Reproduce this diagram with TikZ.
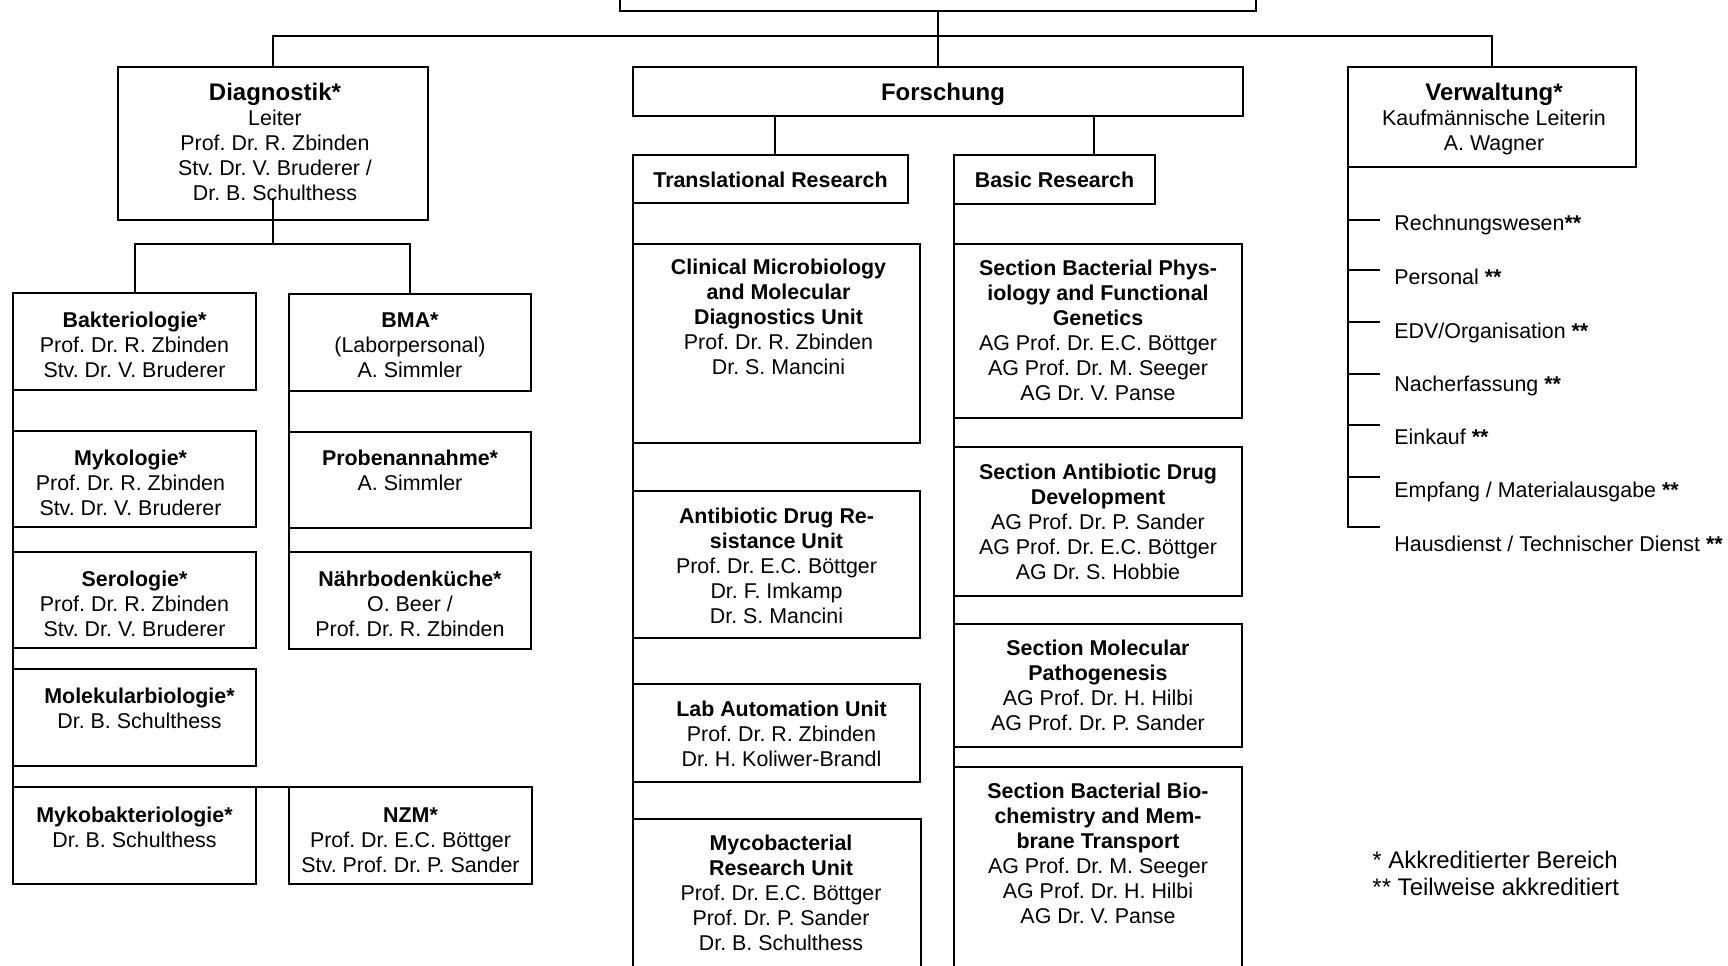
\documentclass[tikz,border=0pt]{standalone}
\usepackage{fontspec}
\setmainfont{Liberation Sans}
\usetikzlibrary{fit,calc}
\frenchspacing
\newcommand{\fst}{\rule{0pt}{9pt}}
\newcommand{\hdr}{\bfseries\fontsize{12}{12.5}\selectfont}
\begin{document}
\frenchspacing
\begin{tikzpicture}[x=0.5pt,y=-0.5pt,
  bx/.style={draw, line width=1pt, inner sep=0pt, outer sep=0pt},
  txt/.style={anchor=north, inner sep=0pt, align=center, font=\fontsize{10.7}{12.5}\selectfont},
  conn/.style={line width=1pt},
  listitem/.style={anchor=base west, inner sep=0pt, font=\fontsize{10.7}{12.5}\selectfont},
  fnote/.style={anchor=base west, inner sep=0pt, font=\fontsize{12}{14}\selectfont}]
\useasboundingbox (0,0) rectangle (1728,965);
\clip (0,0) rectangle (1728,965);

% top level
\node[bx, fit={(620,-40) (1256,11)}] (top) {};
\node[bx, fit={(118,67) (428,220)}] (diag) {};
\node[txt] at ($(diag.north)+(2,15)$) {\fst{\hdr Diagnostik*}\\Leiter\\Prof. Dr. R. Zbinden\\Stv. Dr. V. Bruderer /\\Dr. B. Schulthess};
\node[bx, fit={(633,67) (1243,116)}] (forsch) {};
\node[txt] at ($(forsch.north)+(5,15)$) {\fst{\hdr Forschung}};
\node[bx, fit={(1348,67) (1636,167)}] (verw) {};
\node[txt] at ($(verw.north)+(2,15)$) {\fst{\hdr Verwaltung*}\\Kaufmännische Leiterin\\A. Wagner};

% Diagnostik column
\node[bx, fit={(13,293) (256,390)}] (bakt) {};
\node[txt] at ($(bakt.north)+(0,16)$) {\fst\textbf{Bakteriologie*}\\Prof. Dr. R. Zbinden\\Stv. Dr. V. Bruderer};
\node[bx, fit={(289,294) (531,391)}] (bma) {};
\node[txt] at ($(bma.north)+(0,15)$) {\fst\textbf{BMA*}\\(Laborpersonal)\\A. Simmler};
\node[bx, fit={(13,431) (256,527)}] (myk) {};
\node[txt] at ($(myk.north)+(-4,16)$) {\fst\textbf{Mykologie*}\\Prof. Dr. R. Zbinden\\Stv. Dr. V. Bruderer};
\node[bx, fit={(289,432) (531,528)}] (proben) {};
\node[txt] at ($(proben.north)+(0,15)$) {\fst\textbf{Probenannahme*}\\A. Simmler};
\node[bx, fit={(13,552) (256,648)}] (sero) {};
\node[txt] at ($(sero.north)+(0,16)$) {\fst\textbf{Serologie*}\\Prof. Dr. R. Zbinden\\Stv. Dr. V. Bruderer};
\node[bx, fit={(289,552) (531,649)}] (naehr) {};
\node[txt] at ($(naehr.north)+(0,16)$) {\fst\textbf{Nährbodenküche*}\\O. Beer /\\Prof. Dr. R. Zbinden};
\node[bx, fit={(13,669) (256,766)}] (molek) {};
\node[txt] at ($(molek.north)+(5,16)$) {\fst\textbf{Molekularbiologie*}\\Dr. B. Schulthess};
\node[bx, fit={(13,787) (256,884)}] (mykob) {};
\node[txt] at ($(mykob.north)+(0,17)$) {\fst\textbf{Mykobakteriologie*}\\Dr. B. Schulthess};
\node[bx, fit={(289,787) (532,884)}] (nzm) {};
\node[txt] at ($(nzm.north)+(0,17)$) {\fst\textbf{NZM*}\\Prof. Dr. E.C. Böttger\\Stv. Prof. Dr. P. Sander};

% Forschung columns
\node[bx, fit={(633,155) (908,203)}] (tr) {};
\node[txt] at ($(tr.north)+(0,14)$) {\fst\textbf{Translational Research}};
\node[bx, fit={(954,155) (1155,204)}] (br) {};
\node[txt] at ($(br.north)+(0,14)$) {\fst\textbf{Basic Research}};

\node[bx, fit={(633,244) (920,443)}] (clin) {};
\node[txt] at ($(clin.north)+(2,12)$) {\fst\textbf{Clinical Microbiology}\\\textbf{and Molecular}\\\textbf{Diagnostics Unit}\\Prof. Dr. R. Zbinden\\Dr. S. Mancini};
\node[bx, fit={(633,491) (920,638)}] (abr) {};
\node[txt] at ($(abr.north)+(0,14)$) {\fst\textbf{Antibiotic Drug Re-}\\\textbf{sistance Unit}\\Prof. Dr. E.C. Böttger\\Dr. F. Imkamp\\Dr. S. Mancini};
\node[bx, fit={(633,684) (920,782)}] (lab) {};
\node[txt] at ($(lab.north)+(5,14)$) {\fst\textbf{Lab Automation Unit}\\Prof. Dr. R. Zbinden\\Dr. H. Koliwer-Brandl};
\node[bx, fit={(633,819) (921,1000)}] (myco) {};
\node[txt] at ($(myco.north)+(4,13)$) {\fst\textbf{Mycobacterial}\\\textbf{Research Unit}\\Prof. Dr. E.C. Böttger\\Prof. Dr. P. Sander\\Dr. B. Schulthess};

\node[bx, fit={(954,244) (1242,418)}] (phys) {};
\node[txt] at ($(phys.north)+(0,13)$) {\fst\textbf{Section Bacterial Phys-}\\\textbf{iology and Functional}\\\textbf{Genetics}\\AG Prof. Dr. E.C. Böttger\\AG Prof. Dr. M. Seeger\\AG Dr. V. Panse};
\node[bx, fit={(954,447) (1242,596)}] (abd) {};
\node[txt] at ($(abd.north)+(0,14)$) {\fst\textbf{Section Antibiotic Drug}\\\textbf{Development}\\AG Prof. Dr. P. Sander\\AG Prof. Dr. E.C. Böttger\\AG Dr. S. Hobbie};
\node[bx, fit={(954,624) (1242,747)}] (mol) {};
\node[txt] at ($(mol.north)+(0,13)$) {\fst\textbf{Section Molecular}\\\textbf{Pathogenesis}\\AG Prof. Dr. H. Hilbi\\AG Prof. Dr. P. Sander};
\node[bx, fit={(954,767) (1242,1000)}] (bio) {};
\node[txt] at ($(bio.north)+(0,13)$) {\fst\textbf{Section Bacterial Bio-}\\\textbf{chemistry and Mem-}\\\textbf{brane Transport}\\AG Prof. Dr. M. Seeger\\AG Prof. Dr. H. Hilbi\\AG Dr. V. Panse};

% Verwaltung list
\node[listitem] (v1) at (1394,230) {Rechnungswesen\textbf{**}};
\node[listitem] (v2) at (1394,284) {Personal \textbf{**}};
\node[listitem] (v3) at (1394,338) {EDV/Organisation \textbf{**}};
\node[listitem] (v4) at (1394,391) {Nacherfassung \textbf{**}};
\node[listitem] (v5) at (1394,444) {Einkauf \textbf{**}};
\node[listitem] (v6) at (1394,497) {Empfang / Materialausgabe \textbf{**}};
\node[listitem] (v7) at (1394,551) {Hausdienst / Technischer Dienst \textbf{**}};
\coordinate (t1) at (1380,220);
\coordinate (t2) at (1380,270);
\coordinate (t3) at (1380,322);
\coordinate (t4) at (1380,374);
\coordinate (t5) at (1380,425);
\coordinate (t6) at (1380,477);
\coordinate (t7) at (1380,527);

% footnote
\node[fnote] (fn1) at (1372,868) {* Akkreditierter Bereich};
\node[fnote] (fn2) at (1372,895) {** Teilweise akkreditiert};

% connectors
\coordinate (bus) at ($(top.south)+(0,25)$);
\draw[conn] (top.south) -- (forsch.north);
\draw[conn] (diag.north) |- (bus) -| (verw.north);

\coordinate (dstart) at ($(diag.south)+(0,-22)$);
\coordinate (dbus) at ($(diag.south)+(0,24)$);
\draw[conn] (dstart) -- (dbus);
\draw[conn] (bakt.north) |- (dbus) -| (bma.north);
\draw[conn] (bakt.south west) -- (myk.north west);
\draw[conn] (myk.south west) -- (sero.north west);
\draw[conn] (sero.south west) -- (molek.north west);
\draw[conn] (molek.south west) -- (mykob.north west);
\draw[conn] (mykob.north east) -- (nzm.north west);
\draw[conn] (bma.south west) -- (proben.north west);
\draw[conn] (proben.south west) -- (naehr.north west);

\coordinate (trtop) at ($(tr.north)+(4.5,0)$);
\coordinate (brtop) at ($(br.north)+(39.5,0)$);
\draw[conn] (trtop) -- (trtop |- forsch.south);
\draw[conn] (brtop) -- (brtop |- forsch.south);
\draw[conn] (tr.south west) -- (myco.north west);
\draw[conn] (br.south west) -- (bio.north west);

\draw[conn] (verw.south west) |- (t7);
\foreach \t in {t1,t2,t3,t4,t5,t6} { \draw[conn] (\t -| verw.west) -- (\t); }
\end{tikzpicture}
\end{document}
